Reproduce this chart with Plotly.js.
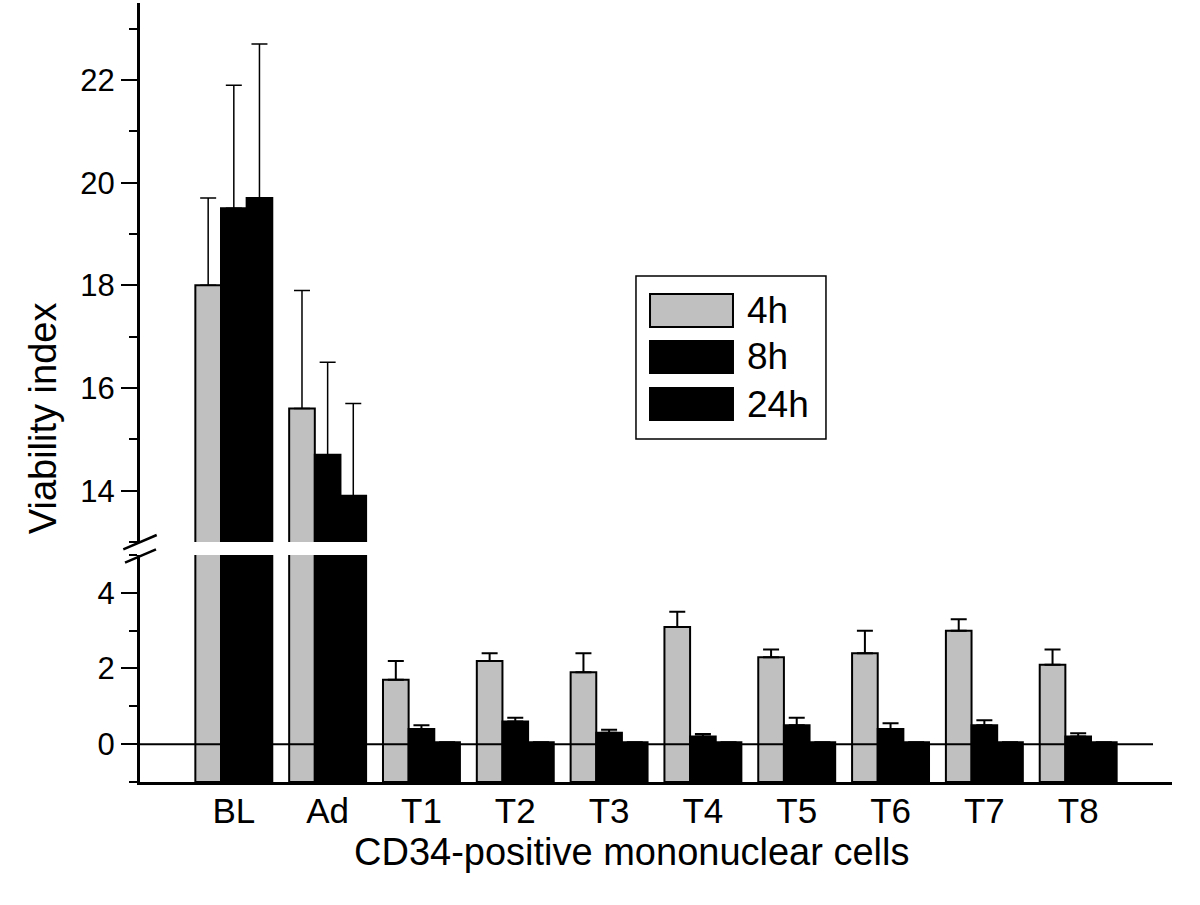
<!DOCTYPE html>
<html>
<head>
<meta charset="utf-8">
<script src="https://cdn.plot.ly/plotly-3.0.1.min.js"></script>
<style>
  body { margin: 0; background: #fff; }
  #chart { width: 1200px; height: 905px; }
</style>
</head>
<body>
<div id="chart"></div>
<script>
// groups on the x axis
var groups = ["BL", "Ad", "T1", "T2", "T3", "T4", "T5", "T6", "T7", "T8"];

// mean viability index per time point
var mean4h  = [18.0, 15.6, 1.7, 2.2, 1.9, 3.1, 2.3, 2.4, 3.0, 2.1];
var mean8h  = [19.5, 14.7, 0.4, 0.6, 0.3, 0.2, 0.5, 0.4, 0.5, 0.2];
var mean24h = [19.7, 13.9, 0.05, 0.05, 0.05, 0.05, 0.05, 0.05, 0.05, 0.05];

// upper error (SD)
var err4h  = [1.7, 2.3, 0.5, 0.2, 0.5, 0.4, 0.2, 0.6, 0.3, 0.4];
var err8h  = [2.4, 1.8, 0.1, 0.1, 0.08, 0.07, 0.2, 0.15, 0.13, 0.09];
var err24h = [3.0, 1.8, 0, 0, 0, 0, 0, 0, 0, 0];

var seriesNames = ["4h", "8h", "24h"];
var seriesColors = ["#c0c0c0", "#000000", "#000000"];

// bars start at the bottom of the lower axis
var barBase = -1;

var fontFamily = "Arial, 'Liberation Sans', sans-serif";

function getBarTrace(values, errors, color, yAxis, errThickness){
    let trace = {
        x: groups,
        y: values.map(function(v){ return v - barBase; }),
        base: barBase,
        type: 'bar',
        xaxis: 'x',
        yaxis: yAxis,
        showlegend: false,
        hoverinfo: 'none',
        marker: {
            color: color,
            line: { color: '#000', width: 2 }
        },
        error_y: {
            type: 'data',
            symmetric: false,
            array: errors,
            arrayminus: errors.map(function(){ return 0; }),
            color: '#000',
            thickness: errThickness,
            width: 8
        }
    };
    return trace;
}

var traces = [];
var means = [mean4h, mean8h, mean24h];
var errs = [err4h, err8h, err24h];
for (let i = 0; i < means.length; i++){
    traces.push(getBarTrace(means[i], errs[i], seriesColors[i], 'y', 2));
}
for (let i = 0; i < means.length; i++){
    traces.push(getBarTrace(means[i], errs[i], seriesColors[i], 'y2', 1.5));
}

function getYAxis(domain, range){
    return {
        domain: domain,
        range: range,
        anchor: 'x',
        tick0: 0,
        dtick: 2,
        ticks: 'outside',
        ticklen: 16,
        tickwidth: 2,
        tickcolor: '#000',
        minor: { dtick: 1, ticks: 'outside', ticklen: 8, tickwidth: 2, tickcolor: '#000' },
        showline: true,
        linewidth: 3,
        linecolor: '#000',
        showgrid: false,
        zeroline: false,
        tickfont: { family: fontFamily, size: 31, color: '#000' }
    };
}

// hand-drawn legend (wide swatches like the original)
var legendRows = [
    { y0: 0.5841, y1: 0.6264, mid: 0.6053 },
    { y0: 0.5250, y1: 0.5661, mid: 0.5456 },
    { y0: 0.4647, y1: 0.5058, mid: 0.4852 }
];

var shapes = [
    // zero reference line
    { type: 'line', xref: 'paper', yref: 'y', x0: 0, x1: 0.9816, y0: 0, y1: 0,
      line: { color: '#000', width: 2 }, layer: 'above' },
    // axis break marks
    { type: 'line', xref: 'paper', yref: 'paper', x0: -0.0162, y0: 0.2987, x1: 0.0162, y1: 0.3171,
      line: { color: '#000', width: 2.5 } },
    { type: 'line', xref: 'paper', yref: 'paper', x0: -0.0145, y0: 0.2815, x1: 0.0155, y1: 0.2987,
      line: { color: '#000', width: 2.5 } },
    // legend box
    { type: 'rect', xref: 'paper', yref: 'paper', x0: 0.4806, x1: 0.6647, y0: 0.4403, y1: 0.6496,
      line: { color: '#000', width: 1.5 }, fillcolor: 'rgba(0,0,0,0)' }
];

var annotations = [
    { xref: 'paper', yref: 'paper', x: -0.094, y: 0.467, text: 'Viability index', textangle: -90,
      showarrow: false, xanchor: 'center', yanchor: 'middle',
      font: { family: fontFamily, size: 38, color: '#000' } },
    { xref: 'paper', yref: 'paper', x: 0.4767, y: -0.0905, text: 'CD34-positive mononuclear cells',
      showarrow: false, xanchor: 'center', yanchor: 'middle',
      font: { family: fontFamily, size: 38, color: '#000' } }
];

for (let i = 0; i < seriesNames.length; i++){
    let row = legendRows[i];
    shapes.push({ type: 'rect', xref: 'paper', yref: 'paper', x0: 0.4942, x1: 0.5746, y0: row.y0, y1: row.y1,
        fillcolor: seriesColors[i], line: { color: '#000', width: 2 } });
    annotations.push({ xref: 'paper', yref: 'paper', x: 0.5862, y: row.mid, text: seriesNames[i],
        showarrow: false, xanchor: 'left', yanchor: 'middle',
        font: { family: fontFamily, size: 37, color: '#000' } });
}

var layout = {
    width: 1200,
    height: 905,
    margin: { l: 140, r: 28, t: 3, b: 123 },
    paper_bgcolor: '#fff',
    plot_bgcolor: '#fff',
    showlegend: false,
    barmode: 'group',
    bargap: 0.18,
    bargroupgap: 0,
    font: { family: fontFamily, color: '#000' },
    xaxis: {
        type: 'category',
        range: [-1, 10],
        anchor: 'y',
        showline: true,
        linewidth: 3,
        linecolor: '#000',
        ticks: '',
        ticklabelstandoff: -4,
        showgrid: false,
        zeroline: false,
        tickfont: { family: fontFamily, size: 35, color: '#000' }
    },
    yaxis: getYAxis([0, 0.2914], [-1, 5]),
    yaxis2: getYAxis([0.3081, 1], [13, 23.5]),
    shapes: shapes,
    annotations: annotations
};

Plotly.newPlot('chart', traces, layout, { staticPlot: true });
</script>
</body>
</html>
